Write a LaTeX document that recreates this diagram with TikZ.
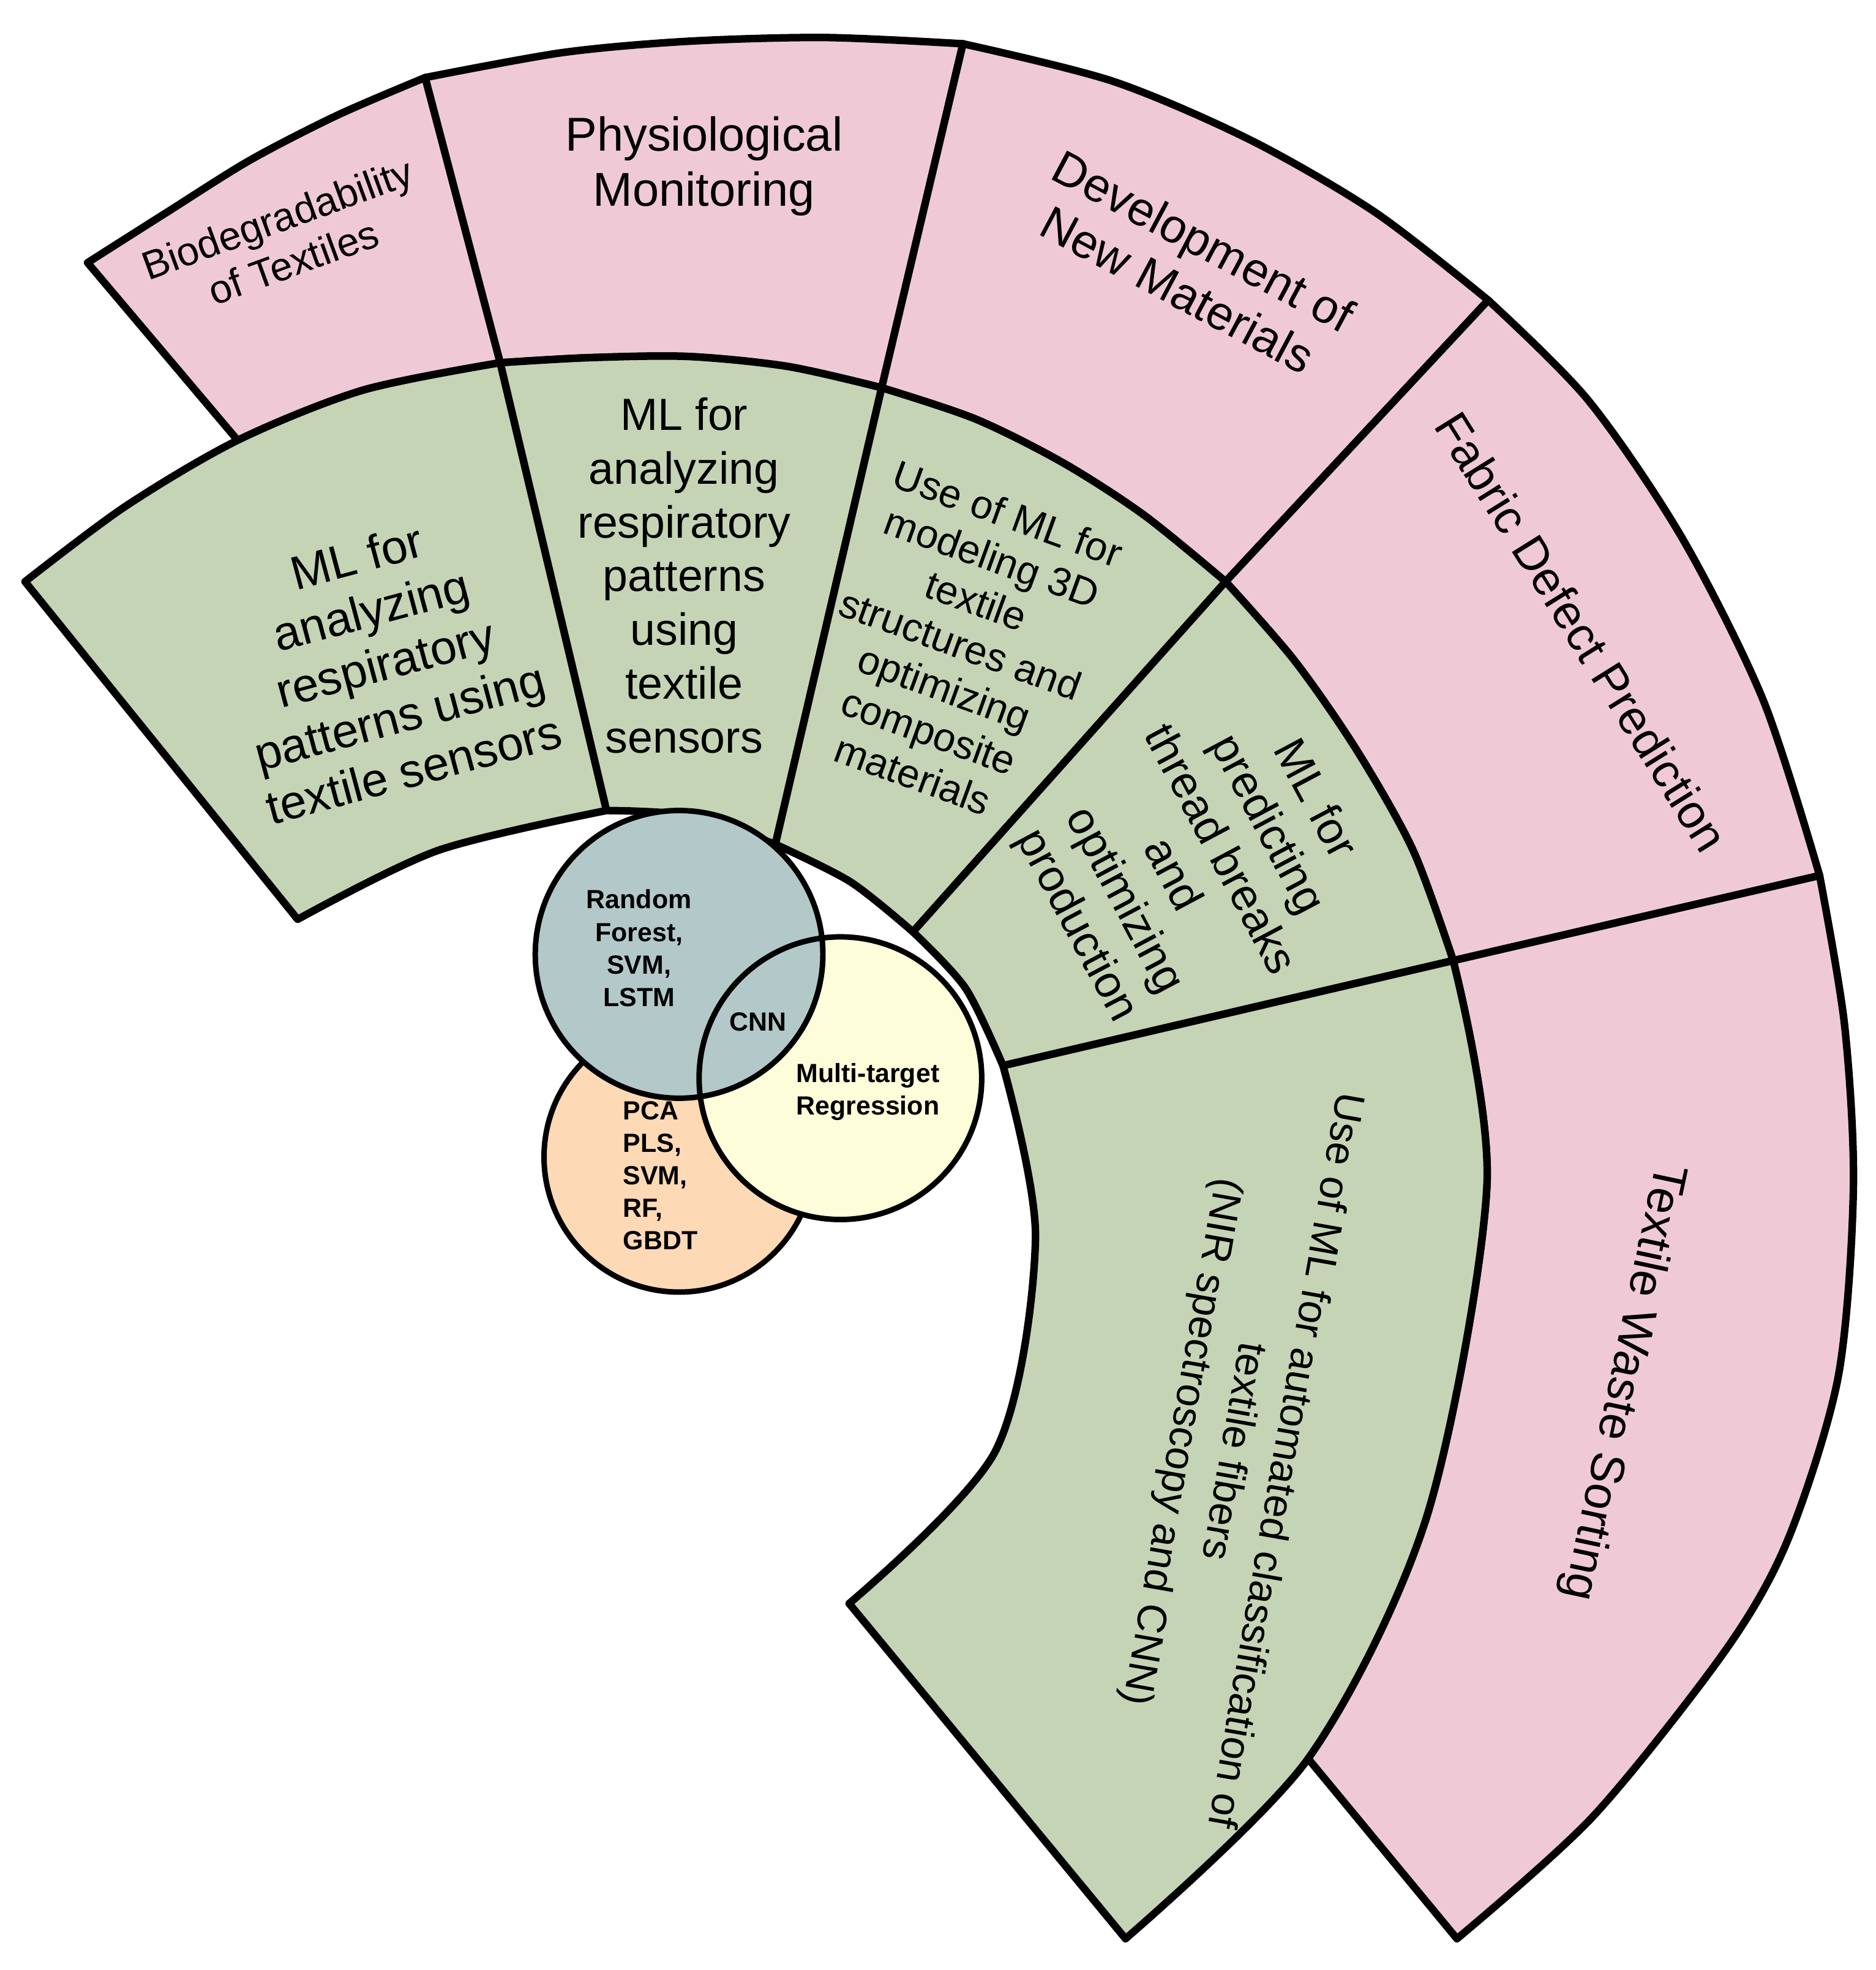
\documentclass[tikz,border=0pt]{standalone}
\usepackage{fontspec}
\setmainfont{Liberation Sans}
\begin{document}
\begin{tikzpicture}[x=0.5pt,y=-0.5pt,line join=round,
  seg/.style={draw=black,line width=3pt},
  pk/.style={seg,fill=pinkc}, gr/.style={seg,fill=greenc},
  big/.style={font=\fontsize{19}{22}\selectfont,align=center},
  mid/.style={font=\fontsize{18}{21.5}\selectfont,align=center},
  sml/.style={font=\fontsize{16}{18.5}\selectfont,align=center},
  circ/.style={circle,inner sep=0},
  ctext/.style={font=\bfseries\fontsize{10.5}{13}\selectfont,align=center}]
\definecolor{pinkc}{HTML}{EFCAD6}
\definecolor{greenc}{HTML}{C5D4B5}
\definecolor{tealc}{HTML}{B3C9C9}
\definecolor{yelc}{HTML}{FDFDDA}
\definecolor{orc}{HTML}{FDD9B5}
\useasboundingbox (0,0) rectangle (1500,1575);
% pink ring
\path[pk] plot[smooth] coordinates {(70,210) (133,170) (200,128) (270,92) (340,62)} -- (400,290)
  -- plot[smooth] coordinates {(400,290) (290,312) (190,352)} -- cycle;
\path[pk] plot[smooth] coordinates {(340,62) (450,42) (550,33) (660,30) (770,35)} -- (705,310)
  -- plot[smooth] coordinates {(705,310) (630,293) (550,285) (470,286) (400,290)} -- cycle;
\path[pk] plot[smooth] coordinates {(770,35) (890,65) (1000,112) (1100,170) (1190,240)} -- (980,465)
  -- plot[smooth] coordinates {(980,465) (915,412) (850,370) (780,335) (705,310)} -- cycle;
\path[pk] plot[smooth] coordinates {(1190,240) (1270,320) (1345,430) (1410,560) (1455,700)} -- (1162,768)
  -- plot[smooth] coordinates {(1162,768) (1130,680) (1085,600) (1035,528) (980,465)} -- cycle;
\path[pk] plot[smooth] coordinates {(1455,700) (1475,820) (1482,950) (1470,1100) (1430,1230) (1380,1319) (1274,1452) (1165,1550)} -- (1046,1406)
  -- plot[smooth] coordinates {(1046,1406) (1141,1212) (1189,947) (1162,768)} -- cycle;
% green ring
\path[gr] plot[smooth] coordinates {(20,465) (100,405) (190,352) (290,312) (400,290)} -- (485,648)
  -- plot[smooth] coordinates {(485,648) (350,680) (238,735)} -- cycle;
\path[gr] plot[smooth] coordinates {(400,290) (470,286) (550,285) (630,293) (705,310)} -- (620,675)
  -- plot[smooth] coordinates {(620,675) (550,652) (485,648)} -- cycle;
\path[gr] plot[smooth] coordinates {(705,310) (780,335) (850,370) (915,412) (980,465)} -- (730,745)
  -- plot[smooth] coordinates {(730,745) (680,705) (620,675)} -- cycle;
\path[gr] plot[smooth] coordinates {(980,465) (1035,528) (1085,600) (1130,680) (1162,768)} -- (802,852)
  -- plot[smooth] coordinates {(802,852) (772,790) (730,745)} -- cycle;
\path[gr] plot[smooth] coordinates {(1162,768) (1189,947) (1141,1212) (1046,1406) (900,1550)} -- (679,1282)
  -- plot[smooth] coordinates {(679,1282) (796,1160) (828,990) (802,852)} -- cycle;
% circles
\node[circ,draw,line width=2.2pt,fill=orc,minimum size=108pt] (o) at (543,925) {};
\node[circ,fill=yelc,minimum size=113pt] (y) at (672,862) {};
\node[circ,fill=tealc,minimum size=115pt] (t) at (543,763) {};
\node[circ,draw,line width=2.2pt,minimum size=113pt] (y2) at (672,862) {};
\node[circ,draw,line width=2.2pt,minimum size=115pt] (t2) at (543,763) {};
\node[ctext] (rf) at (511,758) {Random\\Forest,\\SVM,\\LSTM};
\node[ctext] (cnn) at (606,817) {CNN};
\node[ctext] (mtr) at (694,873) {Multi-target\\Regression};
\node[ctext,align=left] (pca) at (528,940) {PCA\\PLS,\\SVM,\\RF,\\GBDT};
% labels
\node[sml,rotate=20] (l1) at (228,192) {Biodegradability\\of Textiles};
\node[big] (l2) at (563,133) {Physiological\\Monitoring};
\node[big,rotate=-28] (l3) at (952,212) {Development of\\New Materials};
\node[big,rotate=-58] (l4) at (1265,505) {Fabric Defect Prediction};
\node[big,rotate=-102] (l5) at (1297,1105) {Textile Waste Sorting};
\node[big,rotate=15] (g1) at (308,530) {ML for\\analyzing\\respiratory\\patterns using\\textile sensors};
\node[mid] (g2) at (547,460) {ML for\\analyzing\\respiratory\\patterns\\using\\textile\\sensors};
\node[sml,rotate=-20] (g3) at (768,515) {Use of ML for\\modeling 3D\\textile\\structures and\\optimizing\\composite\\materials};
\node[mid,rotate=-62] (g4) at (955,690) {ML for\\predicting\\thread breaks\\and\\optimizing\\production};
\node[font=\fontsize{16.5}{21}\selectfont,align=center,rotate=-100] (g5) at (985,1160) {Use of ML for automated classification of\\textile fibers\\(NIR spectroscopy and CNN)};
\end{tikzpicture}
\end{document}
